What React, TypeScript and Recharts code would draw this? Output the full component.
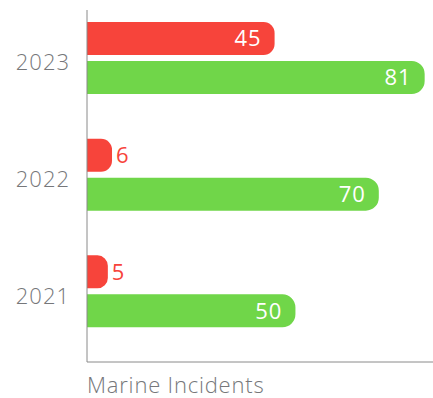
import { BarChart, Bar, XAxis, YAxis, LabelList } from "recharts";

const years = ["2023", "2022", "2021"];
const majorValues = [45, 6, 5];
const totalValues = [81, 70, 50];

const RED = "#f7443b";
const GREEN = "#70d649";
const TEXT = "#76777a";
const FONT = "'Open Sans', Lato, sans-serif";

const data = years.map((year, i) => ({
    year,
    major: majorValues[i],
    total: totalValues[i],
}));

const makeLabel = (color: string) => (props: any) => {
    const { x, y, width, height, value } = props;
    const inside = width > 40;
    return (
        <text
            x={inside ? x + width - 13 : x + width + 4}
            y={y + height / 2}
            dy="0.36em"
            textAnchor={inside ? "end" : "start"}
            fill={inside ? "#ffffff" : color}
            fontSize={22}
            letterSpacing={1}
            fontFamily={FONT}
            fontWeight={400}
        >
            {value}
        </text>
    );
};

const YearTick = (props: any) => {
    const { x, y, payload } = props;
    return (
        <text
            x={x}
            y={y}
            dy={12}
            textAnchor="end"
            fill={TEXT}
            fontSize={22}
            letterSpacing={1}
            fontFamily={FONT}
            fontWeight={300}
        >
            {payload.value}
        </text>
    );
};

const App = () => {
    return (
        <div style={{ position: "absolute", left: 0, top: 0, width: 433, height: 398, background: "#fff" }}>

            <BarChart
                width={433}
                height={398}
                data={data}
                layout="vertical"
                margin={{ top: 10, right: 0, bottom: 0, left: 0 }}
                barSize={33}
                barGap={6}
            >

                <XAxis
                    type="number"
                    domain={[0, 83]}
                    tick={false}
                    tickLine={false}
                    axisLine={{ stroke: "#8a8a8a", strokeWidth: 1 }}
                    height={36}
                    label={{
                        value: "Marine Incidents",
                        position: "insideLeft",
                        offset: 0,
                        dy: 5,
                        fill: TEXT,
                        fontSize: 22,
                        letterSpacing: 0.8,
                        fontFamily: FONT,
                        fontWeight: 300,
                    }}
                />

                <YAxis
                    type="category"
                    dataKey="year"
                    width={87}
                    tickLine={false}
                    tickMargin={11}
                    tick={<YearTick />}
                    axisLine={{ stroke: "#8a8a8a", strokeWidth: 1 }}
                    padding={{ top: -10, bottom: 12 }}
                />

                <Bar dataKey="major" fill={RED} radius={[0, 11, 11, 0]} isAnimationActive={false}>
                    <LabelList dataKey="major" content={makeLabel(RED)} />
                </Bar>

                <Bar dataKey="total" fill={GREEN} radius={[0, 13, 13, 0]} isAnimationActive={false}>
                    <LabelList dataKey="total" content={makeLabel(GREEN)} />
                </Bar>

            </BarChart>

        </div>
    );
};

export default App;
